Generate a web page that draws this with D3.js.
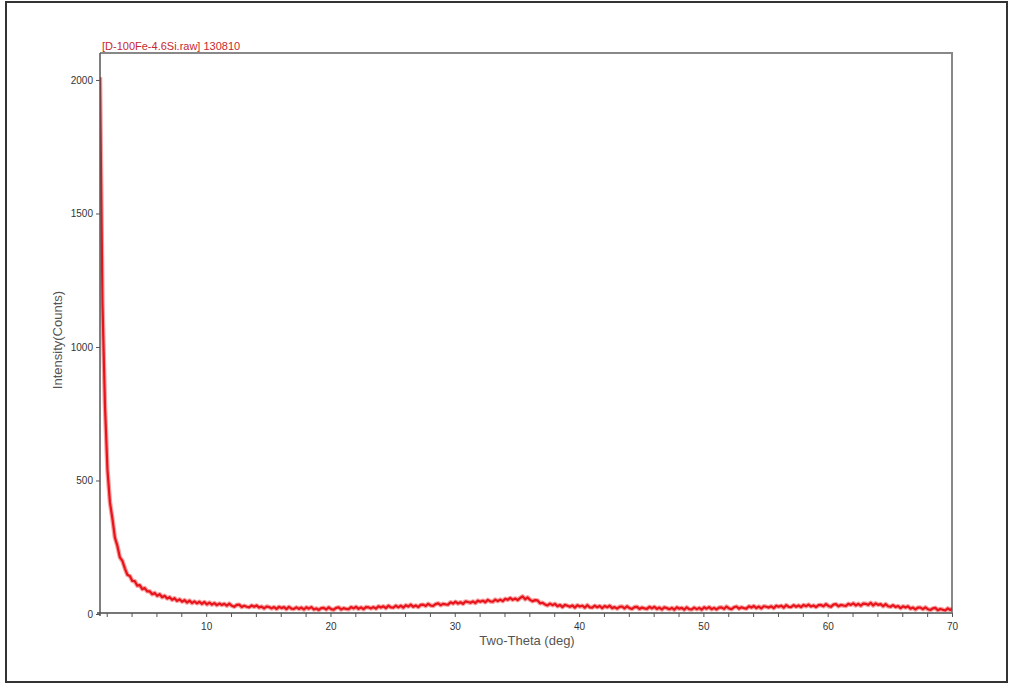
<!DOCTYPE html>
<html>
<head>
<meta charset="utf-8">
<script src="https://cdn.jsdelivr.net/npm/d3@7/dist/d3.min.js"></script>
<style>
  html, body { margin: 0; padding: 0; background: #fff; }
  svg { display: block; font-family: "Liberation Sans", Arial, sans-serif; }
</style>
</head>
<body>
<svg id="chart" width="1011" height="687"></svg>
<script>
// Scan definition (2-theta, degrees)
const scanStart = 1.46;
const scanStep = 0.2;

// Measured intensity (counts), one value per scan step, 10 values per line
const counts = [
  2010, 1160, 780, 540, 418, 356, 286, 255, 212, 199,
  171, 147, 142, 124, 123, 106, 108, 93, 97, 85,
  85, 74, 79, 68, 74, 63, 68, 58, 63, 53,
  59, 49, 55, 46, 52, 43, 50, 41, 47, 40,
  46, 38, 45, 36, 43, 35, 41, 33, 39, 34,
  38, 31, 39, 31, 27, 34, 35, 26, 31, 27,
  25, 32, 27, 32, 24, 28, 21, 28, 26, 21,
  26, 19, 27, 22, 26, 18, 27, 20, 19, 25,
  19, 24, 17, 25, 20, 26, 17, 21, 15, 22,
  23, 17, 25, 18, 16, 23, 25, 17, 22, 19,
  18, 26, 21, 27, 19, 25, 18, 26, 25, 21,
  26, 20, 29, 24, 29, 22, 31, 25, 24, 31,
  25, 31, 24, 33, 28, 35, 27, 32, 26, 34,
  35, 30, 38, 32, 30, 37, 40, 33, 38, 36,
  35, 44, 39, 46, 39, 44, 38, 47, 45, 42,
  47, 41, 50, 46, 50, 44, 53, 47, 46, 54,
  48, 54, 48, 57, 53, 60, 53, 58, 52, 60,
  66, 55, 62, 53, 48, 52, 51, 40, 42, 36,
  32, 39, 33, 38, 29, 34, 26, 34, 31, 27,
  32, 24, 33, 28, 31, 24, 33, 25, 24, 31,
  25, 30, 22, 30, 25, 31, 22, 26, 20, 27,
  28, 21, 29, 22, 19, 26, 27, 19, 24, 21,
  19, 27, 21, 27, 19, 24, 17, 25, 22, 18,
  23, 16, 25, 20, 23, 16, 25, 18, 17, 24,
  18, 23, 16, 25, 20, 26, 18, 23, 17, 24,
  25, 19, 28, 21, 18, 25, 28, 20, 25, 22,
  20, 29, 24, 30, 22, 28, 21, 29, 27, 24,
  29, 22, 31, 27, 31, 24, 33, 27, 26, 33,
  27, 32, 26, 34, 29, 35, 28, 32, 26, 33,
  34, 29, 37, 30, 27, 35, 37, 29, 34, 32,
  30, 38, 34, 40, 32, 38, 31, 39, 38, 34,
  42, 32, 40, 34, 37, 29, 37, 29, 27, 33,
  26, 30, 22, 29, 24, 29, 20, 24, 17, 24,
  24, 18, 25, 18, 15, 21, 23, 14, 19, 16,
  13, 21, 15, 21
];

const xDomain = [1.46, 70];
const yDomain = [0, 2101];
const xTickValues = [2, 4, 6, 8, 10, 12, 14, 16, 18, 20, 22, 24, 26, 28, 30, 32, 34, 36, 38, 40,
                     42, 44, 46, 48, 50, 52, 54, 56, 58, 60, 62, 64, 66, 68, 70];
const xTickLabels = [10, 20, 30, 40, 50, 60, 70];
const yTickValues = [0, 500, 1000, 1500, 2000];

const titleText = "[D-100Fe-4.6Si.raw] 130810";
const xLabel = "Two-Theta (deg)";
const yLabel = "Intensity(Counts)";

const points = counts.map((c, i) => ({ t: scanStart + i * scanStep, c }));

const svg = d3.select("#chart");
const plot = { left: 100, right: 952, top: 53, bottom: 614 };

// outer border
svg.append("rect")
  .attr("x", 6).attr("y", 2)
  .attr("width", 1001).attr("height", 680)
  .attr("fill", "#fff")
  .attr("stroke", "#333").attr("stroke-width", 2);

const x = d3.scaleLinear().domain(xDomain).range([plot.left, plot.right]);
const y = d3.scaleLinear().domain(yDomain).range([plot.bottom, plot.top]);

// plot frame (top and right edges)
svg.append("path")
  .attr("d", `M${plot.left},${plot.top}H${plot.right}V${plot.bottom - 1}`)
  .attr("fill", "none").attr("stroke", "#888").attr("stroke-width", 2);

// clip for the trace
svg.append("clipPath").attr("id", "plotClip")
  .append("rect")
  .attr("x", plot.left).attr("y", plot.top)
  .attr("width", plot.right - plot.left).attr("height", plot.bottom - plot.top);

// intensity trace: soft outer band plus solid core
const line = d3.line().x(d => x(d.t)).y(d => y(d.c));
const trace = svg.append("g").attr("clip-path", "url(#plotClip)");
trace.append("path")
  .datum(points)
  .attr("d", line)
  .attr("fill", "none")
  .attr("stroke", "#f03030")
  .attr("stroke-opacity", 0.45)
  .attr("stroke-width", 4.5)
  .attr("stroke-linejoin", "round");
trace.append("path")
  .datum(points)
  .attr("d", line)
  .attr("fill", "none")
  .attr("stroke", "#e8141b")
  .attr("stroke-width", 2.2)
  .attr("stroke-linejoin", "round");

// bottom axis
const xAxis = d3.axisBottom(x)
  .tickValues(xTickValues)
  .tickSize(4)
  .tickSizeOuter(0)
  .tickPadding(6)
  .tickFormat(d => xTickLabels.includes(d) ? d : "");
const gx = svg.append("g")
  .attr("transform", `translate(0,${plot.bottom - 1})`)
  .call(xAxis);
gx.select(".domain").attr("stroke", "#777").attr("stroke-width", 2)
  .attr("d", `M${plot.left - 3},0H${plot.right}`);
gx.selectAll(".tick line").attr("stroke", "#555");
gx.selectAll(".tick text").attr("fill", "#333").style("font-size", "10px");

// left axis
const yAxis = d3.axisLeft(y)
  .tickValues(yTickValues)
  .tickSize(4)
  .tickSizeOuter(0)
  .tickPadding(3)
  .tickFormat(d3.format("d"));
const gy = svg.append("g")
  .attr("transform", `translate(${plot.left},0)`)
  .call(yAxis);
gy.select(".domain").attr("stroke", "#555").attr("stroke-width", 1.5)
  .attr("d", `M0,${plot.top}V${plot.bottom + 2}`);
gy.selectAll(".tick line").attr("stroke", "#555");
gy.selectAll(".tick text").attr("fill", "#333").style("font-size", "10px");

// title
svg.append("text")
  .attr("x", plot.left + 2).attr("y", plot.top - 3)
  .attr("fill", "#c8282d")
  .style("font-size", "11px")
  .text(titleText);

// axis titles
svg.append("text")
  .attr("x", (plot.left + plot.right) / 2 + 1).attr("y", 645)
  .attr("text-anchor", "middle")
  .attr("fill", "#555")
  .style("font-size", "13px")
  .text(xLabel);

svg.append("text")
  .attr("transform", "translate(62,340) rotate(-90)")
  .attr("text-anchor", "middle")
  .attr("fill", "#555")
  .style("font-size", "13px")
  .text(yLabel);
</script>
</body>
</html>
